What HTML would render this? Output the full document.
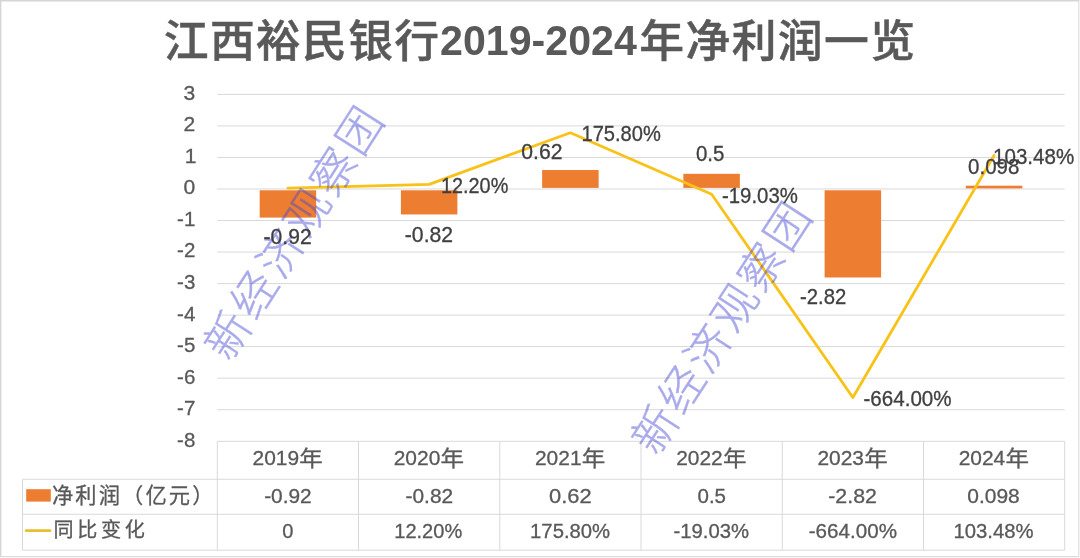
<!DOCTYPE html>
<html lang="zh-CN"><head><meta charset="utf-8"><title>江西裕民银行2019-2024年净利润一览</title>
<style>html,body{margin:0;padding:0;background:#fff;overflow:hidden}svg{display:block}text{font-family:"Liberation Sans", "Noto Sans CJK SC", sans-serif}</style></head><body>
<svg width="1080" height="558" viewBox="0 0 1080 558">
<rect x="0" y="0" width="1080" height="558" fill="#ffffff"/>
<path d="M0 0.65H1079.3" stroke="#d6d6d6" stroke-width="1.5" fill="none"/>
<path d="M0.65 0V557" stroke="#d6d6d6" stroke-width="1.5" fill="none"/>
<path d="M1078.8 0V557M0 556.6H1079.3" stroke="#dcdcdc" stroke-width="1.1" fill="none"/>
<g stroke="#d9d9d9" stroke-width="1">
<line x1="217.30" y1="94.40" x2="1064.70" y2="94.40"/>
<line x1="217.30" y1="125.93" x2="1064.70" y2="125.93"/>
<line x1="217.30" y1="157.46" x2="1064.70" y2="157.46"/>
<line x1="217.30" y1="188.99" x2="1064.70" y2="188.99"/>
<line x1="217.30" y1="220.52" x2="1064.70" y2="220.52"/>
<line x1="217.30" y1="252.05" x2="1064.70" y2="252.05"/>
<line x1="217.30" y1="283.58" x2="1064.70" y2="283.58"/>
<line x1="217.30" y1="315.11" x2="1064.70" y2="315.11"/>
<line x1="217.30" y1="346.64" x2="1064.70" y2="346.64"/>
<line x1="217.30" y1="378.17" x2="1064.70" y2="378.17"/>
<line x1="217.30" y1="409.70" x2="1064.70" y2="409.70"/>
<line x1="217.30" y1="441.30" x2="1064.70" y2="441.30"/>
<line x1="22.50" y1="479.25" x2="1064.70" y2="479.25"/>
<line x1="22.50" y1="514.25" x2="1064.70" y2="514.25"/>
<line x1="22.50" y1="550.20" x2="1064.70" y2="550.20"/>
<line x1="22.50" y1="479.25" x2="22.50" y2="550.20"/>
<line x1="217.30" y1="441.30" x2="217.30" y2="550.20"/>
<line x1="358.53" y1="441.30" x2="358.53" y2="550.20"/>
<line x1="499.77" y1="441.30" x2="499.77" y2="550.20"/>
<line x1="641.00" y1="441.30" x2="641.00" y2="550.20"/>
<line x1="782.23" y1="441.30" x2="782.23" y2="550.20"/>
<line x1="923.47" y1="441.30" x2="923.47" y2="550.20"/>
<line x1="1064.70" y1="441.30" x2="1064.70" y2="550.20"/>
</g>
<text x="183.50" y="99.83" font-size="20.17" fill="#595959" textLength="11.73" lengthAdjust="spacingAndGlyphs" stroke="#595959" stroke-width="0.3">3</text>
<text x="183.50" y="131.36" font-size="20.17" fill="#595959" textLength="11.73" lengthAdjust="spacingAndGlyphs" stroke="#595959" stroke-width="0.3">2</text>
<text x="184.70" y="162.89" font-size="20.17" fill="#595959" textLength="11.73" lengthAdjust="spacingAndGlyphs" stroke="#595959" stroke-width="0.3">1</text>
<text x="183.50" y="194.42" font-size="20.17" fill="#595959" textLength="11.73" lengthAdjust="spacingAndGlyphs" stroke="#595959" stroke-width="0.3">0</text>
<text x="177.10" y="225.95" font-size="20.17" fill="#595959" textLength="18.23" lengthAdjust="spacingAndGlyphs" stroke="#595959" stroke-width="0.3">-1</text>
<text x="177.10" y="257.48" font-size="20.17" fill="#595959" textLength="18.23" lengthAdjust="spacingAndGlyphs" stroke="#595959" stroke-width="0.3">-2</text>
<text x="177.10" y="289.01" font-size="20.17" fill="#595959" textLength="18.23" lengthAdjust="spacingAndGlyphs" stroke="#595959" stroke-width="0.3">-3</text>
<text x="177.10" y="320.54" font-size="20.17" fill="#595959" textLength="18.23" lengthAdjust="spacingAndGlyphs" stroke="#595959" stroke-width="0.3">-4</text>
<text x="177.10" y="352.07" font-size="20.17" fill="#595959" textLength="18.23" lengthAdjust="spacingAndGlyphs" stroke="#595959" stroke-width="0.3">-5</text>
<text x="177.10" y="383.60" font-size="20.17" fill="#595959" textLength="18.23" lengthAdjust="spacingAndGlyphs" stroke="#595959" stroke-width="0.3">-6</text>
<text x="177.10" y="415.13" font-size="20.17" fill="#595959" textLength="18.23" lengthAdjust="spacingAndGlyphs" stroke="#595959" stroke-width="0.3">-7</text>
<text x="177.10" y="446.66" font-size="20.17" fill="#595959" textLength="18.23" lengthAdjust="spacingAndGlyphs" stroke="#595959" stroke-width="0.3">-8</text>
<rect x="259.67" y="190.29" width="56.49" height="27.31" fill="#ed7d31"/>
<rect x="400.90" y="190.29" width="56.49" height="24.15" fill="#ed7d31"/>
<rect x="542.14" y="170.04" width="56.49" height="17.85" fill="#ed7d31"/>
<rect x="683.37" y="173.83" width="56.49" height="14.06" fill="#ed7d31"/>
<rect x="824.60" y="190.29" width="56.49" height="87.21" fill="#ed7d31"/>
<rect x="965.84" y="185.70" width="56.49" height="2.69" fill="#ed7d31"/>
<polyline points="287.92,188.19 429.15,184.34 570.38,132.76 711.62,194.19 852.85,397.55 994.08,155.56" fill="none" stroke="#f8c218" stroke-width="2.8" stroke-linejoin="round" stroke-linecap="round"/>
<text transform="translate(294.03 233.05) rotate(-57.30)" x="1.85" y="15.97" text-anchor="middle" font-size="45" font-weight="300" letter-spacing="3.7" fill="#4648d4" stroke="#4648d4" stroke-width="0.45" opacity="0.46">新经济观察团</text>
<text transform="translate(721.57 328.09) rotate(-57.00)" x="1.75" y="15.97" text-anchor="middle" font-size="45" font-weight="300" letter-spacing="3.5" fill="#4648d4" stroke="#4648d4" stroke-width="0.45" opacity="0.46">新经济观察团</text>
<text x="263.60" y="244.15" font-size="21.18" fill="#404040" textLength="48.08" lengthAdjust="spacingAndGlyphs" stroke="#404040" stroke-width="0.3">-0.92</text>
<text x="404.80" y="241.75" font-size="21.18" fill="#404040" textLength="48.30" lengthAdjust="spacingAndGlyphs" stroke="#404040" stroke-width="0.3">-0.82</text>
<text x="521.25" y="159.22" font-size="21.18" fill="#404040" textLength="41.22" lengthAdjust="spacingAndGlyphs" stroke="#404040" stroke-width="0.3">0.62</text>
<text x="696.00" y="160.97" font-size="21.18" fill="#404040" textLength="28.38" lengthAdjust="spacingAndGlyphs" stroke="#404040" stroke-width="0.3">0.5</text>
<text x="800.00" y="304.20" font-size="21.18" fill="#404040" textLength="46.24" lengthAdjust="spacingAndGlyphs" stroke="#404040" stroke-width="0.3">-2.82</text>
<text x="968.12" y="174.22" font-size="21.18" fill="#404040" textLength="51.22" lengthAdjust="spacingAndGlyphs" stroke="#404040" stroke-width="0.3">0.098</text>
<text x="441.00" y="193.40" font-size="21.18" fill="#404040" textLength="67.29" lengthAdjust="spacingAndGlyphs" stroke="#404040" stroke-width="0.3">12.20%</text>
<text x="581.50" y="141.22" font-size="21.18" fill="#404040" textLength="79.37" lengthAdjust="spacingAndGlyphs" stroke="#404040" stroke-width="0.3">175.80%</text>
<text x="722.00" y="202.72" font-size="21.18" fill="#404040" textLength="75.87" lengthAdjust="spacingAndGlyphs" stroke="#404040" stroke-width="0.3">-19.03%</text>
<text x="863.50" y="406.15" font-size="21.18" fill="#404040" textLength="88.10" lengthAdjust="spacingAndGlyphs" stroke="#404040" stroke-width="0.3">-664.00%</text>
<text x="993.12" y="163.60" font-size="21.18" fill="#404040" textLength="81.05" lengthAdjust="spacingAndGlyphs" stroke="#404040" stroke-width="0.3">103.48%</text>
<text x="252.51" y="464.90" font-size="20.17" fill="#595959" textLength="46.55" lengthAdjust="spacingAndGlyphs" stroke="#595959" stroke-width="0.3">2019</text>
<text x="299.35" y="465.50" font-size="21.35" fill="#595959" textLength="23.53" lengthAdjust="spacingAndGlyphs" stroke="#595959" stroke-width="0.3">年</text>
<text x="264.15" y="502.75" font-size="19.88" fill="#595959" textLength="47.55" lengthAdjust="spacingAndGlyphs" stroke="#595959" stroke-width="0.3">-0.92</text>
<text x="282.20" y="538.45" font-size="20.45" fill="#595959" textLength="11.18" lengthAdjust="spacingAndGlyphs" stroke="#595959" stroke-width="0.3">0</text>
<text x="393.74" y="464.90" font-size="20.17" fill="#595959" textLength="46.55" lengthAdjust="spacingAndGlyphs" stroke="#595959" stroke-width="0.3">2020</text>
<text x="440.58" y="465.50" font-size="21.35" fill="#595959" textLength="23.53" lengthAdjust="spacingAndGlyphs" stroke="#595959" stroke-width="0.3">年</text>
<text x="405.55" y="502.75" font-size="19.88" fill="#595959" textLength="47.55" lengthAdjust="spacingAndGlyphs" stroke="#595959" stroke-width="0.3">-0.82</text>
<text x="394.30" y="538.45" font-size="20.45" fill="#595959" textLength="67.90" lengthAdjust="spacingAndGlyphs" stroke="#595959" stroke-width="0.3">12.20%</text>
<text x="534.98" y="464.90" font-size="20.17" fill="#595959" textLength="46.55" lengthAdjust="spacingAndGlyphs" stroke="#595959" stroke-width="0.3">2021</text>
<text x="581.82" y="465.50" font-size="21.35" fill="#595959" textLength="23.53" lengthAdjust="spacingAndGlyphs" stroke="#595959" stroke-width="0.3">年</text>
<text x="549.10" y="502.75" font-size="19.88" fill="#595959" textLength="42.60" lengthAdjust="spacingAndGlyphs" stroke="#595959" stroke-width="0.3">0.62</text>
<text x="530.10" y="538.45" font-size="20.45" fill="#595959" textLength="80.06" lengthAdjust="spacingAndGlyphs" stroke="#595959" stroke-width="0.3">175.80%</text>
<text x="676.21" y="464.90" font-size="20.17" fill="#595959" textLength="46.55" lengthAdjust="spacingAndGlyphs" stroke="#595959" stroke-width="0.3">2022</text>
<text x="723.05" y="465.50" font-size="21.35" fill="#595959" textLength="23.53" lengthAdjust="spacingAndGlyphs" stroke="#595959" stroke-width="0.3">年</text>
<text x="697.50" y="502.75" font-size="19.88" fill="#595959" textLength="28.53" lengthAdjust="spacingAndGlyphs" stroke="#595959" stroke-width="0.3">0.5</text>
<text x="673.50" y="538.45" font-size="20.45" fill="#595959" textLength="75.60" lengthAdjust="spacingAndGlyphs" stroke="#595959" stroke-width="0.3">-19.03%</text>
<text x="817.44" y="464.90" font-size="20.17" fill="#595959" textLength="46.55" lengthAdjust="spacingAndGlyphs" stroke="#595959" stroke-width="0.3">2023</text>
<text x="864.28" y="465.50" font-size="21.35" fill="#595959" textLength="23.53" lengthAdjust="spacingAndGlyphs" stroke="#595959" stroke-width="0.3">年</text>
<text x="828.25" y="502.75" font-size="19.88" fill="#595959" textLength="48.61" lengthAdjust="spacingAndGlyphs" stroke="#595959" stroke-width="0.3">-2.82</text>
<text x="808.75" y="538.45" font-size="20.45" fill="#595959" textLength="88.25" lengthAdjust="spacingAndGlyphs" stroke="#595959" stroke-width="0.3">-664.00%</text>
<text x="958.68" y="464.90" font-size="20.17" fill="#595959" textLength="46.55" lengthAdjust="spacingAndGlyphs" stroke="#595959" stroke-width="0.3">2024</text>
<text x="1005.52" y="465.50" font-size="21.35" fill="#595959" textLength="23.53" lengthAdjust="spacingAndGlyphs" stroke="#595959" stroke-width="0.3">年</text>
<text x="967.30" y="502.75" font-size="19.88" fill="#595959" textLength="52.48" lengthAdjust="spacingAndGlyphs" stroke="#595959" stroke-width="0.3">0.098</text>
<text x="953.50" y="538.45" font-size="20.45" fill="#595959" textLength="80.07" lengthAdjust="spacingAndGlyphs" stroke="#595959" stroke-width="0.3">103.48%</text>
<text x="52.00" y="502.50" font-size="21.24" fill="#595959" textLength="161.37" lengthAdjust="spacing" stroke="#595959" stroke-width="0.3">净利润（亿元）</text>
<text x="53.38" y="537.10" font-size="20.08" fill="#595959" textLength="91.38" lengthAdjust="spacing" stroke="#595959" stroke-width="0.3">同比变化</text>
<text x="163.80" y="56.80" font-size="44.80" font-weight="500" fill="#595959" textLength="275.29" lengthAdjust="spacing" stroke="#595959" stroke-width="0.5">江西裕民银行</text>
<text x="440.00" y="55.05" font-size="42.87" font-weight="bold" fill="#595959" textLength="196.85" lengthAdjust="spacingAndGlyphs">2019-2024</text>
<text x="639.25" y="56.80" font-size="44.80" font-weight="500" fill="#595959" textLength="275.83" lengthAdjust="spacing" stroke="#595959" stroke-width="0.5">年净利润一览</text>
<rect x="26.2" y="489.2" width="24.6" height="12.4" fill="#ed7d31"/>
<line x1="26.2" y1="530.7" x2="50.0" y2="530.7" stroke="#e6c030" stroke-width="2.8" stroke-linecap="round"/>
</svg></body></html>
